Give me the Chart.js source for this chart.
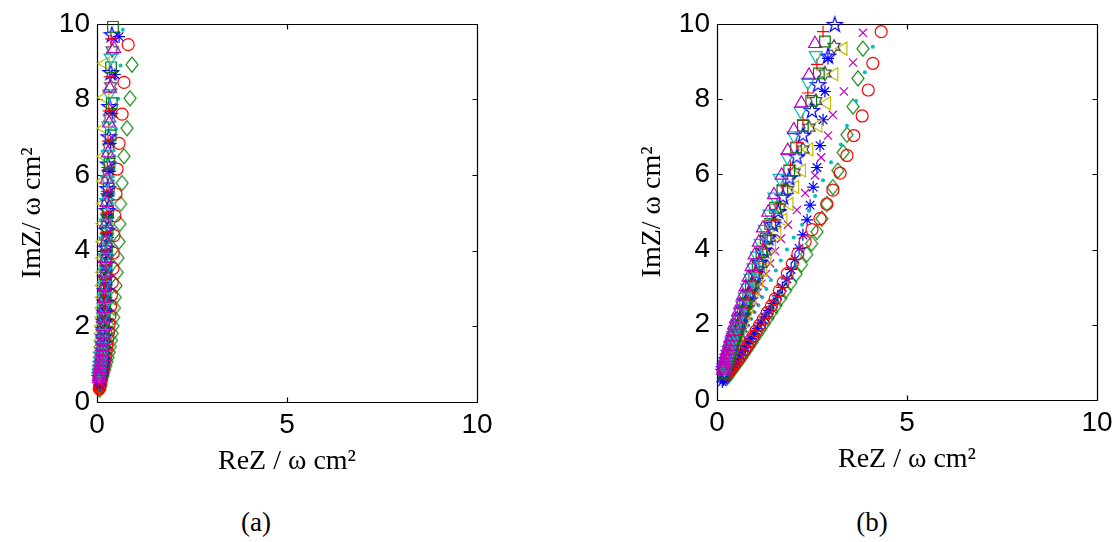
<!DOCTYPE html>
<html>
<head>
<meta charset="utf-8">
<script src="https://cdn.jsdelivr.net/npm/chart.js@4.4.0/dist/chart.umd.min.js"></script>
<style>
  html, body { margin: 0; padding: 0; background: #fff; }
  #page { position: relative; width: 1120px; height: 542px; overflow: hidden; }
  .panel { position: absolute; top: 0; width: 520px; height: 480px; }
  .cap { position: absolute; top: 506px; width: 100px; text-align: center; color: #000;
         font: 27px 'Liberation Serif', 'Times New Roman', serif; line-height: 32px; }
</style>
</head>
<body>
<div id="page">
  <div class="panel" style="left:0"><canvas id="chartA" width="520" height="480"></canvas></div>
  <div class="panel" style="left:620px"><canvas id="chartB" width="520" height="480"></canvas></div>
  <div class="cap" style="left:206px">(a)</div>
  <div class="cap" style="left:822px">(b)</div>
</div>
<script>
// axis ticks
var xTicks = [0, 5, 10];
var yTicks = [0, 2, 4, 6, 8, 10];
var xTitle = 'ReZ / ω cm²';
var yTitle = 'ImZ/ ω cm²';

// ---- panel (a) : [ReZ, ImZ] ----
var aUp = [[0.45,9.34],[0.34,8.29],[0.32,7.37],[0.29,6.58],[0.26,5.89],[0.25,5.27],[0.24,4.72],[0.23,4.23],[0.22,3.79],[0.21,3.40],[0.20,3.05],[0.19,2.74],[0.18,2.46],[0.17,2.21],[0.16,1.99],[0.15,1.79],[0.14,1.61],[0.13,1.45],[0.12,1.31],[0.11,1.18],[0.10,1.07],[0.09,0.97],[0.08,0.88],[0.07,0.80],[0.06,0.73],[0.05,0.67],[0.05,0.61]];
var aDown = [[0.36,9.10],[0.32,8.15],[0.30,7.30],[0.28,6.55],[0.26,5.88],[0.24,5.28],[0.23,4.74],[0.22,4.26],[0.21,3.83],[0.20,3.44],[0.19,3.09],[0.18,2.78],[0.17,2.50],[0.16,2.25],[0.15,2.02],[0.14,1.82],[0.13,1.64],[0.12,1.48],[0.11,1.33],[0.10,1.20],[0.09,1.08],[0.08,0.98],[0.07,0.88],[0.06,0.80],[0.06,0.72]];
var aPlus = [[0.37,9.60],[0.33,8.60],[0.31,7.70],[0.29,6.90],[0.27,6.20],[0.26,5.57],[0.25,5.00],[0.24,4.49],[0.23,4.03],[0.22,3.62],[0.21,3.25],[0.20,2.92],[0.19,2.62],[0.18,2.35],[0.17,2.11],[0.16,1.90],[0.15,1.71],[0.14,1.54],[0.13,1.38],[0.12,1.24],[0.11,1.12],[0.10,1.01],[0.09,0.91],[0.08,0.82],[0.07,0.74],[0.07,0.66]];
var aSquare = [[0.42,9.92],[0.37,8.85],[0.39,7.90],[0.36,7.05],[0.33,6.30],[0.31,5.64],[0.29,5.05],[0.28,4.53],[0.26,4.06],[0.25,3.64],[0.24,3.27],[0.22,2.94],[0.21,2.64],[0.20,2.37],[0.19,2.13],[0.18,1.91],[0.17,1.72],[0.16,1.55],[0.15,1.39],[0.14,1.25],[0.13,1.13],[0.12,1.02],[0.11,0.92],[0.10,0.83],[0.09,0.75],[0.08,0.67]];
var aPenta = [[0.39,9.70],[0.36,8.70],[0.33,7.80],[0.31,7.00],[0.29,6.28],[0.28,5.63],[0.27,5.05],[0.26,4.53],[0.25,4.06],[0.24,3.64],[0.23,3.27],[0.22,2.93],[0.21,2.63],[0.20,2.36],[0.19,2.12],[0.18,1.90],[0.17,1.71],[0.16,1.53],[0.15,1.37],[0.14,1.23],[0.13,1.10],[0.12,0.99],[0.11,0.89],[0.10,0.80],[0.09,0.72],[0.08,0.64]];
var aHexa = [[0.40,9.30],[0.36,8.35],[0.33,7.50],[0.31,6.73],[0.29,6.04],[0.27,5.42],[0.26,4.87],[0.25,4.37],[0.24,3.92],[0.23,3.52],[0.22,3.16],[0.21,2.84],[0.20,2.55],[0.19,2.29],[0.18,2.06],[0.17,1.85],[0.16,1.66],[0.15,1.49],[0.14,1.34],[0.13,1.21],[0.12,1.09],[0.11,0.98],[0.10,0.88],[0.09,0.79],[0.08,0.71]];
var aLeft = [[0.22,8.95],[0.21,8.05],[0.20,7.24],[0.19,6.50],[0.18,5.84],[0.18,5.25],[0.17,4.72],[0.17,4.24],[0.16,3.81],[0.16,3.43],[0.15,3.08],[0.15,2.77],[0.14,2.49],[0.14,2.24],[0.13,2.01],[0.12,1.81],[0.12,1.63],[0.11,1.47],[0.10,1.32],[0.10,1.19],[0.09,1.07],[0.08,0.96],[0.07,0.86],[0.07,0.77],[0.06,0.70]];
var aCross = [[0.45,9.60],[0.42,8.65],[0.40,7.80],[0.38,7.00],[0.36,6.30],[0.34,5.65],[0.32,5.05],[0.30,4.52],[0.29,4.04],[0.27,3.60],[0.26,3.20],[0.24,2.85],[0.23,2.54],[0.21,2.26],[0.20,2.00],[0.19,1.78],[0.18,1.58],[0.17,1.40],[0.16,1.24],[0.15,1.10],[0.14,0.98],[0.13,0.87],[0.12,0.77],[0.11,0.68],[0.10,0.60],[0.09,0.53]];
var aCircle = [[0.82,9.45],[0.71,8.45],[0.66,7.61],[0.58,6.84],[0.53,6.16],[0.50,5.50],[0.47,4.92],[0.45,4.40],[0.43,3.94],[0.42,3.53],[0.40,3.16],[0.38,2.83],[0.36,2.54],[0.34,2.28],[0.32,2.05],[0.30,1.84],[0.28,1.65],[0.26,1.48],[0.24,1.33],[0.22,1.19],[0.20,1.07],[0.18,0.96],[0.16,0.86],[0.14,0.77],[0.12,0.69],[0.11,0.62],[0.10,0.55],[0.09,0.49],[0.08,0.44],[0.07,0.39],[0.06,0.35]];
var aDot = [[0.68,9.84],[0.62,8.90],[0.56,8.02],[0.50,7.22],[0.46,6.50],[0.42,5.85],[0.39,5.26],[0.36,4.73],[0.33,4.25],[0.31,3.82],[0.29,3.43],[0.27,3.08],[0.25,2.76],[0.23,2.48],[0.21,2.22],[0.20,1.99],[0.18,1.78],[0.17,1.59],[0.16,1.42],[0.15,1.27],[0.14,1.13],[0.13,1.01],[0.12,0.90],[0.11,0.80],[0.10,0.71],[0.09,0.63],[0.08,0.56],[0.07,0.50]];
var aAsterisk = [[0.58,9.66],[0.47,8.66],[0.40,7.63],[0.36,6.84],[0.34,6.10],[0.31,5.45],[0.30,4.87],[0.29,4.35],[0.28,3.89],[0.27,3.47],[0.26,3.10],[0.25,2.77],[0.24,2.47],[0.23,2.20],[0.22,1.96],[0.21,1.75],[0.20,1.56],[0.19,1.39],[0.17,1.24],[0.16,1.10],[0.15,0.98],[0.13,0.87],[0.12,0.77],[0.11,0.68],[0.10,0.60],[0.09,0.53],[0.08,0.47],[0.07,0.42]];
var aDiamond = [[0.92,8.92],[0.87,8.03],[0.79,7.24],[0.71,6.50],[0.66,5.79],[0.62,5.24],[0.60,4.71],[0.58,4.24],[0.55,3.81],[0.53,3.43],[0.50,3.08],[0.48,2.77],[0.46,2.49],[0.44,2.24],[0.42,2.01],[0.40,1.81],[0.38,1.63],[0.35,1.46],[0.32,1.31],[0.29,1.18],[0.26,1.06],[0.23,0.95],[0.20,0.85],[0.17,0.76],[0.15,0.68],[0.13,0.61],[0.11,0.54],[0.10,0.48],[0.09,0.43],[0.08,0.38],[0.07,0.33]];

// ---- panel (b) : [ReZ, ImZ] ----
var bUp = [[2.58,9.47],[2.42,8.63],[2.22,7.89],[2.02,7.18],[1.86,6.63],[1.70,5.97],[1.50,5.45],[1.35,4.99],[1.21,4.57],[1.10,4.19],[0.99,3.85],[0.91,3.54],[0.83,3.26],[0.75,3.00],[0.68,2.76],[0.62,2.54],[0.56,2.34],[0.50,2.15],[0.45,1.98],[0.41,1.82],[0.37,1.67],[0.33,1.54],[0.30,1.42],[0.27,1.31],[0.24,1.21],[0.22,1.12],[0.20,1.04],[0.19,0.97],[0.18,0.90],[0.17,0.84],[0.16,0.79]];
var bDown = [[2.60,9.16],[2.39,8.45],[2.20,7.68],[2.02,7.03],[1.85,6.45],[1.65,5.90],[1.51,5.40],[1.38,4.95],[1.26,4.54],[1.15,4.17],[1.05,3.83],[0.96,3.52],[0.88,3.24],[0.80,2.98],[0.73,2.74],[0.67,2.52],[0.61,2.32],[0.56,2.14],[0.51,1.97],[0.46,1.81],[0.42,1.67],[0.39,1.54],[0.35,1.42],[0.32,1.31],[0.29,1.21],[0.27,1.12],[0.25,1.04],[0.23,0.96],[0.21,0.89],[0.20,0.83]];
var bPlus = [[2.79,9.79],[2.63,8.92],[2.39,8.16],[2.26,7.45],[2.10,6.84],[1.93,6.24],[1.74,5.70],[1.58,5.21],[1.44,4.77],[1.32,4.37],[1.20,4.01],[1.10,3.68],[1.00,3.38],[0.92,3.11],[0.84,2.86],[0.76,2.63],[0.70,2.42],[0.64,2.23],[0.58,2.05],[0.53,1.89],[0.48,1.74],[0.44,1.60],[0.40,1.47],[0.36,1.35],[0.33,1.24],[0.30,1.14],[0.27,1.05],[0.25,0.97],[0.23,0.89],[0.21,0.82],[0.20,0.75]];
var bSquare = [[2.84,9.53],[2.68,8.68],[2.48,7.95],[2.26,7.29],[2.08,6.71],[1.90,6.10],[1.72,5.58],[1.53,5.11],[1.40,4.68],[1.28,4.29],[1.17,3.93],[1.07,3.61],[0.98,3.31],[0.89,3.04],[0.82,2.79],[0.74,2.56],[0.68,2.35],[0.62,2.16],[0.56,1.98],[0.51,1.82],[0.47,1.67],[0.42,1.53],[0.39,1.41],[0.35,1.30],[0.32,1.19],[0.29,1.10],[0.26,1.01],[0.24,0.93],[0.22,0.86],[0.20,0.79],[0.19,0.72]];
var bPenta = [[3.10,9.97],[2.92,9.13],[2.66,8.37],[2.50,7.68],[2.26,7.03],[2.10,6.45],[1.90,5.89],[1.74,5.39],[1.61,5.00],[1.47,4.66],[1.35,4.30],[1.23,3.96],[1.12,3.65],[1.02,3.36],[0.93,3.10],[0.85,2.86],[0.77,2.64],[0.70,2.43],[0.64,2.24],[0.58,2.06],[0.53,1.90],[0.48,1.75],[0.43,1.61],[0.39,1.48],[0.35,1.36],[0.32,1.25],[0.29,1.15],[0.26,1.06],[0.23,0.97],[0.21,0.89],[0.19,0.82],[0.18,0.75]];
var bHexa = [[3.08,9.39],[2.84,8.68],[2.60,7.95],[2.42,7.24],[2.26,6.66],[2.03,6.05],[1.85,5.58],[1.65,5.12],[1.51,4.70],[1.38,4.31],[1.26,3.95],[1.15,3.62],[1.05,3.32],[0.96,3.05],[0.87,2.80],[0.80,2.57],[0.73,2.36],[0.66,2.17],[0.61,1.99],[0.55,1.83],[0.50,1.68],[0.46,1.54],[0.42,1.42],[0.38,1.30],[0.35,1.20],[0.32,1.10],[0.29,1.01],[0.26,0.93],[0.24,0.86],[0.22,0.79]];
var bLeft = [[3.32,9.34],[3.08,8.66],[2.89,7.89],[2.66,7.29],[2.42,6.66],[2.23,6.10],[2.05,5.66],[1.90,5.21],[1.74,4.79],[1.58,4.42],[1.44,4.08],[1.32,3.76],[1.21,3.46],[1.10,3.19],[1.01,2.94],[0.92,2.71],[0.84,2.50],[0.77,2.30],[0.70,2.12],[0.64,1.95],[0.58,1.80],[0.53,1.66],[0.48,1.53],[0.44,1.41],[0.40,1.30],[0.36,1.20],[0.33,1.11],[0.30,1.02],[0.27,0.94],[0.25,0.87],[0.23,0.80]];
var bCross = [[3.84,9.76],[3.58,8.97],[3.34,8.20],[3.05,7.58],[2.92,7.03],[2.74,6.45],[2.58,5.97],[2.32,5.50],[2.10,5.05],[1.87,4.66],[1.68,4.29],[1.53,3.96],[1.40,3.63],[1.29,3.35],[1.17,3.09],[1.07,2.85],[0.98,2.63],[0.90,2.43],[0.82,2.24],[0.75,2.07],[0.69,1.91],[0.63,1.76],[0.58,1.62],[0.53,1.49],[0.48,1.37],[0.44,1.26],[0.40,1.16],[0.37,1.07],[0.34,0.98],[0.31,0.90],[0.28,0.83],[0.26,0.76],[0.24,0.70]];
var bCircle = [[4.32,9.79],[4.10,8.95],[3.98,8.24],[3.82,7.55],[3.60,7.03],[3.42,6.50],[3.24,6.03],[3.05,5.58],[2.89,5.21],[2.71,4.82],[2.50,4.53],[2.32,4.21],[2.13,3.89],[1.98,3.62],[1.85,3.36],[1.74,3.12],[1.64,2.90],[1.53,2.69],[1.43,2.50],[1.32,2.32],[1.22,2.15],[1.12,1.99],[1.03,1.84],[0.95,1.70],[0.87,1.57],[0.80,1.45],[0.73,1.34],[0.66,1.24],[0.60,1.15],[0.54,1.07],[0.48,0.99],[0.43,0.92],[0.38,0.85],[0.33,0.79],[0.29,0.74],[0.25,0.69]];
var bDot = [[4.10,9.39],[3.89,8.71],[3.66,7.95],[3.42,7.29],[3.26,6.79],[3.00,6.32],[2.79,5.84],[2.58,5.42],[2.42,5.03],[2.24,4.66],[2.02,4.32],[1.84,4.00],[1.68,3.71],[1.55,3.44],[1.42,3.19],[1.30,2.95],[1.19,2.73],[1.09,2.52],[0.99,2.33],[0.90,2.15],[0.82,1.98],[0.75,1.83],[0.68,1.69],[0.62,1.56],[0.56,1.44],[0.51,1.33],[0.46,1.23],[0.42,1.14],[0.38,1.05],[0.34,0.97],[0.31,0.90],[0.28,0.83],[0.26,0.77],[0.24,0.71]];
var bAsterisk = [[2.92,9.08],[2.84,8.20],[2.79,7.45],[2.71,6.76],[2.63,6.18],[2.53,5.66],[2.45,5.18],[2.37,4.79],[2.26,4.39],[2.16,4.03],[2.05,3.74],[1.95,3.47],[1.84,3.22],[1.72,2.99],[1.60,2.77],[1.48,2.57],[1.37,2.38],[1.26,2.21],[1.16,2.05],[1.07,1.90],[0.98,1.76],[0.90,1.63],[0.82,1.51],[0.75,1.40],[0.68,1.30],[0.62,1.20],[0.56,1.11],[0.50,1.03],[0.45,0.95],[0.40,0.88],[0.35,0.81],[0.31,0.75],[0.27,0.69],[0.23,0.63],[0.20,0.58],[0.17,0.53],[0.14,0.48]];
var bDiamond = [[3.84,9.34],[3.71,8.55],[3.58,7.80],[3.42,7.05],[3.32,6.58],[3.18,6.10],[3.05,5.66],[2.89,5.21],[2.76,4.82],[2.63,4.47],[2.49,4.16],[2.36,3.87],[2.22,3.60],[2.08,3.35],[1.94,3.12],[1.80,2.90],[1.67,2.70],[1.55,2.51],[1.44,2.34],[1.34,2.18],[1.24,2.03],[1.15,1.89],[1.06,1.76],[0.98,1.64],[0.91,1.53],[0.84,1.42],[0.77,1.32],[0.71,1.23],[0.65,1.14],[0.59,1.06],[0.53,0.98],[0.48,0.91],[0.43,0.84],[0.38,0.78],[0.34,0.72],[0.30,0.66],[0.27,0.61]];

var sansFont = "'Liberation Sans', Arial, Helvetica, sans-serif";
var serifFont = "'Liberation Serif', 'Times New Roman', serif";

// outline star used for the pentagram / hexagram markers
function starMarker(n, outer, inner, color) {
    var size = Math.ceil(outer * 2 + 4);
    var c = document.createElement('canvas');
    c.width = size; c.height = size;
    var g = c.getContext('2d');
    g.strokeStyle = color;
    g.lineWidth = 1.2;
    g.beginPath();
    for (var i = 0; i < n * 2; i++) {
        var r = i % 2 ? inner : outer;
        var t = -Math.PI / 2 + i * Math.PI / n;
        var px = size / 2 + r * Math.cos(t), py = size / 2 + r * Math.sin(t);
        if (i) g.lineTo(px, py); else g.moveTo(px, py);
    }
    g.closePath();
    g.stroke();
    return c;
}

// tall diamond like the matlab 'd' marker
function diamondMarker(hw, hh, color) {
    var w = Math.ceil(hw * 2 + 4), h = Math.ceil(hh * 2 + 4);
    var c = document.createElement('canvas');
    c.width = w; c.height = h;
    var g = c.getContext('2d');
    g.strokeStyle = color;
    g.lineWidth = 1.2;
    g.beginPath();
    g.moveTo(w / 2, h / 2 - hh);
    g.lineTo(w / 2 + hw, h / 2);
    g.lineTo(w / 2, h / 2 + hh);
    g.lineTo(w / 2 - hw, h / 2);
    g.closePath();
    g.stroke();
    return c;
}

var penta = starMarker(5, 8, 3.1, '#0000ff');
var hexa = starMarker(6, 7, 4, '#404040');
var diam = diamondMarker(6, 7.5, '#008000');

// marker look per series kind (matlab style)
var markers = {
    up:       { pointStyle: 'triangle', pointRadius: 7.5, pointRotation: 0,   color: '#bf00bf' },
    down:     { pointStyle: 'triangle', pointRadius: 7.5, pointRotation: 180, color: '#00bfbf' },
    plus:     { pointStyle: 'cross',    pointRadius: 6,   pointRotation: 0,   color: '#ff0000' },
    square:   { pointStyle: 'rect',     pointRadius: 7.5, pointRotation: 0,   color: '#008000' },
    penta:    { pointStyle: penta,      pointRadius: 7,   pointRotation: 0,   color: '#0000ff' },
    hexa:     { pointStyle: hexa,       pointRadius: 7,   pointRotation: 0,   color: '#404040' },
    left:     { pointStyle: 'triangle', pointRadius: 7.5, pointRotation: 270, color: '#bfbf00' },
    cross:    { pointStyle: 'crossRot', pointRadius: 5.8, pointRotation: 0,   color: '#bf00bf' },
    circle:   { pointStyle: 'circle',   pointRadius: 6,   pointRotation: 0,   color: '#ff0000' },
    dot:      { pointStyle: 'circle',   pointRadius: 2,   pointRotation: 0,   color: '#00bfbf', fill: true },
    asterisk: { pointStyle: 'star',     pointRadius: 6,   pointRotation: 0,   color: '#0000ff' },
    diamond:  { pointStyle: diam,       pointRadius: 7,   pointRotation: 0,   color: '#008000' }
};

function makeSet(pairs, kind) {
    var m = markers[kind];
    return {
        label: kind,
        data: pairs.map(function (p) { return { x: p[0], y: p[1] }; }),
        showLine: false,
        clip: false,
        pointStyle: m.pointStyle,
        pointRadius: m.pointRadius,
        pointHoverRadius: m.pointRadius,
        pointRotation: m.pointRotation,
        borderColor: m.color,
        backgroundColor: m.fill ? m.color : 'rgba(0,0,0,0)',
        borderWidth: m.fill ? 0 : 1.2
    };
}

// box + inward tick marks like matlab axes
var boxTicks = {
    id: 'boxTicks',
    beforeDatasetsDraw: function (chart) {
        var ctx = chart.ctx, a = chart.chartArea;
        var sx = chart.scales.x, sy = chart.scales.y;
        var L = Math.round(a.left) + 0.5, R = Math.round(a.right) + 0.5;
        var T = Math.round(a.top) + 0.5, B = Math.round(a.bottom) + 0.5;
        ctx.save();
        ctx.strokeStyle = '#000';
        ctx.lineWidth = 1.2;
        ctx.beginPath();
        ctx.rect(L, T, R - L, B - T);
        xTicks.forEach(function (v) {
            var px = Math.round(sx.getPixelForValue(v)) + 0.5;
            ctx.moveTo(px, B); ctx.lineTo(px, B - 5);
            ctx.moveTo(px, T); ctx.lineTo(px, T + 5);
        });
        yTicks.forEach(function (v) {
            var py = Math.round(sy.getPixelForValue(v)) + 0.5;
            ctx.moveTo(L, py); ctx.lineTo(L + 5, py);
            ctx.moveTo(R, py); ctx.lineTo(R - 5, py);
        });
        ctx.stroke();
        ctx.restore();
    }
};

function makeChart(id, sets, padTop, xHeight, titlePad) {
    return new Chart(document.getElementById(id), {
        type: 'scatter',
        data: { datasets: sets },
        options: {
            responsive: false,
            animation: false,
            devicePixelRatio: 1,
            events: [],
            layout: { padding: { top: padTop, right: 43, bottom: 0, left: 0 } },
            plugins: { legend: { display: false }, tooltip: { enabled: false } },
            scales: {
                x: {
                    type: 'linear', min: 0, max: 10,
                    afterBuildTicks: function (s) { s.ticks = xTicks.map(function (v) { return { value: v }; }); },
                    afterFit: function (s) { s.height = xHeight; },
                    grid: { display: false, drawTicks: false },
                    border: { display: false },
                    ticks: { color: '#000', padding: 6, autoSkip: false, maxRotation: 0,
                             font: { family: sansFont, size: 28 } },
                    title: { display: true, text: xTitle, color: '#000',
                             padding: { top: 0, bottom: titlePad },
                             font: { family: serifFont, size: 28 } }
                },
                y: {
                    type: 'linear', min: 0, max: 10,
                    afterBuildTicks: function (s) { s.ticks = yTicks.map(function (v) { return { value: v }; }); },
                    afterFit: function (s) { s.width = 97; },
                    grid: { display: false, drawTicks: false },
                    border: { display: false },
                    ticks: { color: '#000', padding: 7, autoSkip: false,
                             font: { family: sansFont, size: 28 } },
                    title: { display: true, text: yTitle, color: '#000',
                             padding: { top: 16, bottom: 0 },
                             font: { family: serifFont, size: 28 } }
                }
            }
        },
        plugins: [boxTicks]
    });
}

var chartA = makeChart('chartA', [
    makeSet(aUp, 'up'), makeSet(aDown, 'down'), makeSet(aPlus, 'plus'),
    makeSet(aSquare, 'square'), makeSet(aPenta, 'penta'), makeSet(aHexa, 'hexa'),
    makeSet(aLeft, 'left'), makeSet(aCross, 'cross'), makeSet(aCircle, 'circle'),
    makeSet(aDot, 'dot'), makeSet(aAsterisk, 'asterisk'), makeSet(aDiamond, 'diamond')
], 22, 78, 2);

var chartB = makeChart('chartB', [
    makeSet(bUp, 'up'), makeSet(bDown, 'down'), makeSet(bPlus, 'plus'),
    makeSet(bSquare, 'square'), makeSet(bPenta, 'penta'), makeSet(bHexa, 'hexa'),
    makeSet(bLeft, 'left'), makeSet(bCross, 'cross'), makeSet(bCircle, 'circle'),
    makeSet(bDot, 'dot'), makeSet(bAsterisk, 'asterisk'), makeSet(bDiamond, 'diamond')
], 20, 80, 4);
</script>
</body>
</html>
